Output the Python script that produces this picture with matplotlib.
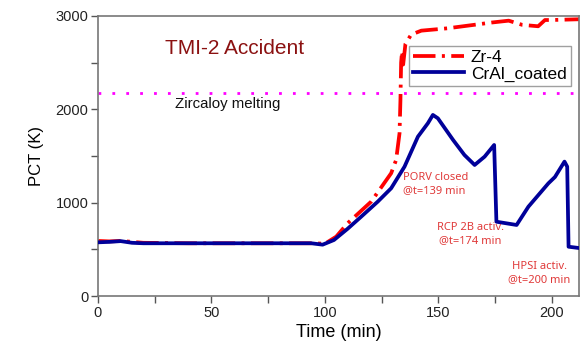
import matplotlib
matplotlib.use("Agg")
import matplotlib.pyplot as plt
from matplotlib.ticker import MultipleLocator

# Data
t_zr = [0, 5, 10, 20, 40, 60, 80, 95, 100, 105, 110, 120.4, 129.2, 131.4, 132.9, 133.3,
        133.6, 134, 134.5, 135.5, 138, 142.5, 154, 173.5, 181, 187, 194, 197, 200, 212]
T_zr = [590, 585, 590, 570, 565, 565, 565, 565, 560, 636, 779, 1011, 1315, 1458, 1744, 2100,
        2500, 2620, 2480, 2700, 2800, 2843, 2868, 2930, 2950, 2905, 2890, 2957, 2957, 2965]

t_cr = [0, 5, 10, 15, 20, 40, 60, 80, 94, 99, 104, 110, 116, 123.3, 129.2, 135.1, 141,
        145.4, 147.6, 149.8, 156.5, 161.5, 166, 170.4, 174.6, 175.6, 184.5, 189.7, 198.5,
        201.4, 205.6, 206.8, 207.4, 212]
T_cr = [575, 580, 588, 570, 565, 565, 565, 565, 565, 550, 600, 720, 850, 1011, 1154, 1386, 1707,
        1851, 1940, 1904, 1672, 1511, 1404, 1493, 1618, 796, 761, 957, 1207,
        1275, 1440, 1386, 528, 514]

melt_T = 2170
x_ticks = [0, 50, 100, 150, 200]
y_ticks = [0, 1000, 2000, 3000]

plt.rcParams['font.family'] = ['Liberation Sans', 'DejaVu Sans']

fig = plt.figure(figsize=(5.8, 3.45), dpi=100)
ax = fig.add_axes([98/580, 1-296/345, (579-98)/580, (296-16)/345])

ax.axhline(melt_T, color='#ff00ff', lw=2, linestyle=(0, (1, 4)), zorder=1)
ax.plot(t_zr, T_zr, color='#ff0000', lw=2.7, linestyle=(0, (6, 1.7, 0.8, 1.7)),
        label='Zr-4', zorder=2)
ax.plot(t_cr, T_cr, color='#000099', lw=2.7, label='CrAl_coated', zorder=3)

ax.set_xlim(0, 212)
ax.set_ylim(0, 3000)
ax.set_xticks(x_ticks)
ax.set_yticks(y_ticks)
ax.xaxis.set_minor_locator(MultipleLocator(25))
ax.yaxis.set_minor_locator(MultipleLocator(500))
ax.tick_params(which='both', direction='out', length=5, width=1, color='#555555',
               labelsize=10.5, labelcolor='#222222', pad=2)
for s in ax.spines.values():
    s.set_color('#777777')
    s.set_linewidth(1.2)

ax.set_xlabel('Time (min)', fontsize=13, labelpad=3)
ax.set_ylabel('PCT (K)', fontsize=12, labelpad=8)

fig.text(165/580, 1-48/345, 'TMI-2 Accident', fontsize=15, color='#8b1111',
         va='center', ha='left')

leg = ax.legend(loc='upper left', bbox_to_anchor=((409-98)/481, (296-46)/280),
                fontsize=12.5, frameon=True, fancybox=False, edgecolor='#888888',
                handlelength=2.9, borderpad=0.25, labelspacing=0.05, handletextpad=0.4,
                borderaxespad=0)
leg.get_frame().set_linewidth(1)

ann_color = '#e03a3a'
afont = ['Noto Sans', 'DejaVu Sans']
ax.text(134.5, 1200, 'PORV closed\n@t=139 min', fontsize=8, color=ann_color,
        family=afont, ha='left', va='center', linespacing=1.25)
ax.text(164, 660, 'RCP 2B activ.\n@t=174 min', fontsize=8, color=ann_color,
        family=afont, ha='center', va='center', linespacing=1.25)
ax.text(194.5, 246, 'HPSI activ.\n@t=200 min', fontsize=8, color=ann_color,
        family=afont, ha='center', va='center', linespacing=1.25)
fig.text(175/580, 1-104/345, 'Zircaloy melting', fontsize=10.8, color='#111111',
         ha='left', va='center')

fig.savefig('out.png', dpi=100)
